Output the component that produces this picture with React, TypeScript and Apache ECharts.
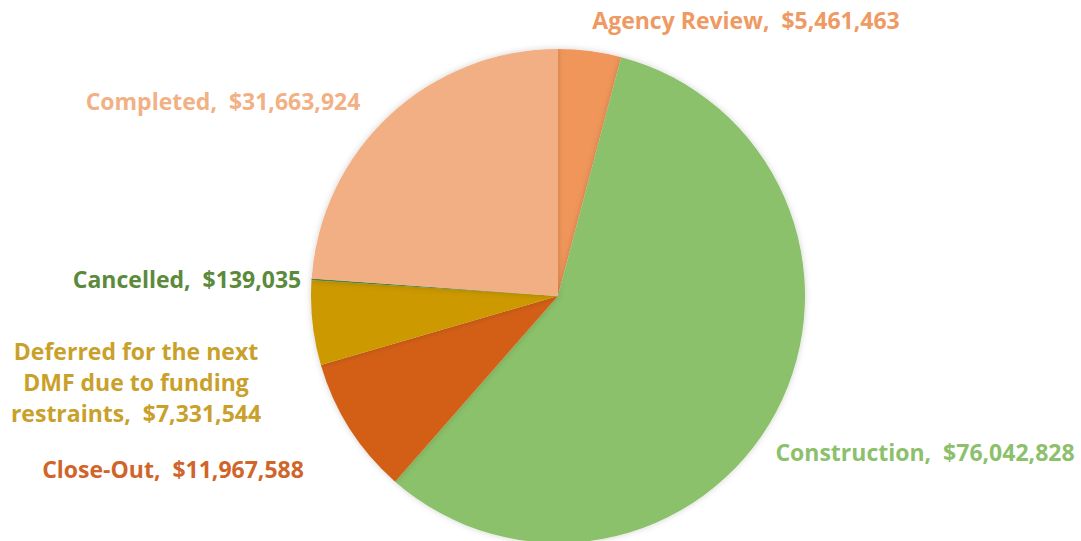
import React, { useEffect, useRef } from "react";
import * as echarts from "echarts";

const categories = [
  "Agency Review",
  "Construction",
  "Close-Out",
  "Deferred for the next DMF due to funding restraints",
  "Cancelled",
  "Completed",
];
const values = [5461463, 76042828, 11967588, 7331544, 139035, 31663924];
const sliceColors = ["#F0965A", "#8BC16A", "#D35F13", "#CC9900", "#5A8A3A", "#F2AF84"];
const labelColors = ["#EE9A62", "#8CC06C", "#D0652A", "#C9A02A", "#5B8A3B", "#F2B085"];
const labelLines: Record<string, string> = {
  "Deferred for the next DMF due to funding restraints": "Deferred for the next\nDMF due to funding\nrestraints",
};
// label anchor centres (layout)
const labelPos: [number, number][] = [
  [746, 20],
  [925, 452],
  [173, 469],
  [136, 382],
  [187, 279],
  [223, 101],
];

const fmt = (v: number) => "$" + v.toLocaleString("en-US");

export default function App() {
  const ref = useRef<HTMLDivElement>(null);
  useEffect(() => {
    if (!ref.current) return;
    const chart = echarts.init(ref.current, undefined, { renderer: "svg" });
    chart.setOption({
      animation: false,
      backgroundColor: "#ffffff",
      series: [
        {
          type: "pie",
          center: [558, 296],
          radius: 247,
          startAngle: 90,
          clockwise: true,
          avoidLabelOverlap: false,
          itemStyle: {
            borderWidth: 0,
            shadowBlur: 6,
            shadowColor: "rgba(0,0,0,0.18)",
          },
          labelLine: { show: false },
          label: {
            show: true,
            position: "outside",
            fontFamily: "Open Sans",
            fontWeight: "bold",
            fontSize: 23,
            lineHeight: 31,
            formatter: (p: any) => `${labelLines[p.name] ?? p.name},  ${fmt(p.value)}`,
          },
          labelLayout: (p: any) => ({
            x: labelPos[p.dataIndex][0],
            y: labelPos[p.dataIndex][1],
            align: "center",
            verticalAlign: "middle",
          }),
          data: categories.map((c, i) => ({
            name: c,
            value: values[i],
            itemStyle: { color: sliceColors[i] },
            label: { color: labelColors[i] },
          })),
        },
      ],
    });
    return () => chart.dispose();
  }, []);
  return (
    <div
      ref={ref}
      style={{ position: "fixed", left: 0, top: 0, width: 1081, height: 541 }}
    />
  );
}
